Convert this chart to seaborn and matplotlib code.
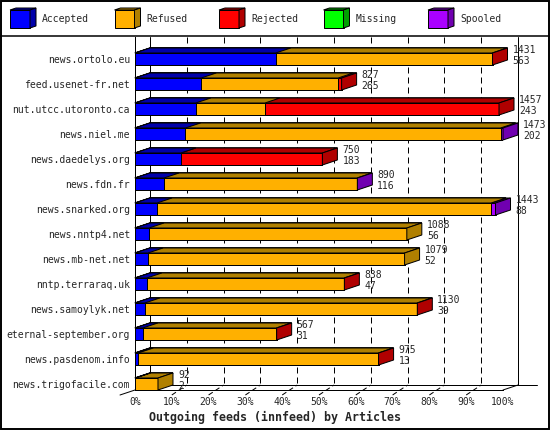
import numpy as np
import pandas as pd
import seaborn as sns
import matplotlib.pyplot as plt
from matplotlib.patches import Polygon, Rectangle

# innfeed outgoing feeds, articles per peer
hosts = ["news.ortolo.eu", "feed.usenet-fr.net", "nut.utcc.utoronto.ca", "news.niel.me",
         "news.daedelys.org", "news.fdn.fr", "news.snarked.org", "news.nntp4.net",
         "news.mb-net.net", "nntp.terraraq.uk", "news.samoylyk.net",
         "eternal-september.org", "news.pasdenom.info", "news.trigofacile.com"]
accepted = [563, 265, 243, 202, 183, 116, 88, 56, 52, 47, 39, 31, 13, 2]
refused = [866, 548, 277, 1261, 0, 772, 1337, 1032, 1027, 789, 1089, 534, 960, 90]
rejected = [2, 14, 937, 0, 567, 0, 0, 0, 0, 2, 2, 2, 2, 0]
missing = [0, 0, 0, 0, 0, 0, 0, 0, 0, 0, 0, 0, 0, 0]
spooled = [0, 0, 0, 10, 0, 2, 18, 0, 0, 0, 0, 0, 0, 0]

series = ["Accepted", "Refused", "Rejected", "Missing", "Spooled"]
face = ["#0000ff", "#ffb000", "#ff0000", "#00ff00", "#aa00ff"]
dark = ["#0000aa", "#b08000", "#b00000", "#00a000", "#7000b0"]

df = pd.DataFrame({"host": hosts, "Accepted": accepted, "Refused": refused,
                   "Rejected": rejected, "Missing": missing, "Spooled": spooled})
vals = df[series].to_numpy().T
cum = np.cumsum(vals, axis=0)
totals = cum[-1]
pct = cum / totals.max() * 100

sns.set_style("white")
plt.rcParams['font.family'] = ['DejaVu Sans Mono']
plt.rcParams['font.size'] = 7

W, H = 550, 430
fig = plt.figure(figsize=(5.5, 4.3), dpi=100)
# plot area in pixels: x 135..503 (0..100%), y 37..390
ax = fig.add_axes([135 / W, (H - 390) / H, (503 - 135) / W, (390 - 37) / H])

pxx = (503 - 135) / 100.0   # px per pct
dx = 15 / pxx               # depth in x (data)
dy = 5 / 25.0               # depth in y (data, rows are 25px apart)
y_front = (390 - 59) / 25.0
y_top = (37 - 59) / 25.0
y_back = y_front - dy
lw = 0.72

# stacked front faces, outermost first
for j in reversed(range(len(series))):
    sns.barplot(x=pct[j], y=hosts, orient="h", color=face[j], saturation=1,
                edgecolor="black", linewidth=lw, width=0.48, ax=ax, zorder=3)
    for rect in ax.containers[-1]:
        x0, y0, w, h = rect.get_x(), rect.get_y(), rect.get_width(), rect.get_height()
        if w <= 0:
            continue
        top = [(x0, y0), (x0 + w, y0), (x0 + w + dx, y0 - dy), (x0 + dx, y0 - dy)]
        ax.add_patch(Polygon(top, closed=True, facecolor=dark[j], edgecolor="black",
                             linewidth=lw, zorder=3, clip_on=False))

# side face in colour of last non-empty segment, plus value labels
h = 0.48
for i in range(len(hosts)):
    last = max(j for j in range(len(series)) if vals[j, i] > 0)
    end = pct[-1, i]
    y0 = i - h / 2
    side = [(end, y0), (end, y0 + h), (end + dx, y0 + h - dy), (end + dx, y0 - dy)]
    ax.add_patch(Polygon(side, closed=True, facecolor=dark[last], edgecolor="black",
                         linewidth=lw, zorder=4, clip_on=False))
    ax.text(end + dx + 5 / pxx, i - 0.14, f"{totals[i]}\n{accepted[i]}", ha="left",
            va="center", fontsize=7, linespacing=1.1, clip_on=False, zorder=5)

# back wall / grid
ax.plot([dx, dx], [y_top, y_back], color="black", lw=lw, zorder=1, clip_on=False)
ax.plot([100 + dx, 100 + dx], [y_top, y_back], color="black", lw=lw, zorder=1, clip_on=False)
for k in range(1, 10):
    ax.plot([10 * k + dx] * 2, [y_top, y_back], color="black", lw=lw,
            ls=(0, (6, 4)), zorder=1, clip_on=False)
    ax.plot([10 * k, 10 * k + dx], [y_front + dy, y_back], color="black", lw=lw,
            ls=(0, (5, 3)), zorder=1, clip_on=False)
# floor
ax.plot([dx, 100 + 2 * dx + 1], [y_back, y_back], color="black", lw=lw, zorder=1, clip_on=False)
ax.plot([-dx, dx], [y_front + dy, y_back], color="black", lw=lw, zorder=1, clip_on=False)
ax.plot([100, 100 + dx], [y_front, y_back], color="black", lw=lw, zorder=1, clip_on=False)

ax.set_xlim(0, 100)
ax.set_ylim(y_front, y_top)
ax.set_xticks(range(0, 101, 10))
ax.set_xticklabels([f"{v}%" for v in range(0, 101, 10)])
ax.set_ylabel("")
ax.set_xlabel("")
ax.tick_params(axis="x", length=0, pad=5, labelsize=7)
ax.tick_params(axis="y", length=0, pad=3.6, labelsize=7)
for s in ["top", "right"]:
    ax.spines[s].set_visible(False)
for s in ["left", "bottom"]:
    ax.spines[s].set_linewidth(lw)
    ax.spines[s].set_color("black")
ax.set_facecolor("none")

fig.text(0.5, 1 - 417 / H, "Outgoing feeds (innfeed) by Articles", ha="center",
         va="center", fontsize=8.4, fontweight="bold")

# overlay: border, legend
ov = fig.add_axes([0, 0, 1, 1], facecolor="none")
ov.set_xlim(0, W)
ov.set_ylim(H, 0)
ov.axis("off")
ov.add_patch(Rectangle((0.5, 0.5), W - 1.5, H - 1.5, fill=False, edgecolor="black", lw=1.4))
ov.plot([0, W], [35.5, 35.5], color="black", lw=1.1)
for i, name in enumerate(series):
    x = 10 + 104.5 * i
    ov.add_patch(Rectangle((x, 10), 20, 18, facecolor=face[i], edgecolor="black", lw=lw))
    ov.add_patch(Polygon([(x, 10), (x + 20, 10), (x + 26, 8), (x + 6, 8)],
                         facecolor=dark[i], edgecolor="black", lw=lw))
    ov.add_patch(Polygon([(x + 20, 10), (x + 26, 8), (x + 26, 26), (x + 20, 28)],
                         facecolor=dark[i], edgecolor="black", lw=lw))
    ov.text(x + 32, 19.5, name, ha="left", va="center", fontsize=7)

fig.savefig("out.png", dpi=100, facecolor="white")
